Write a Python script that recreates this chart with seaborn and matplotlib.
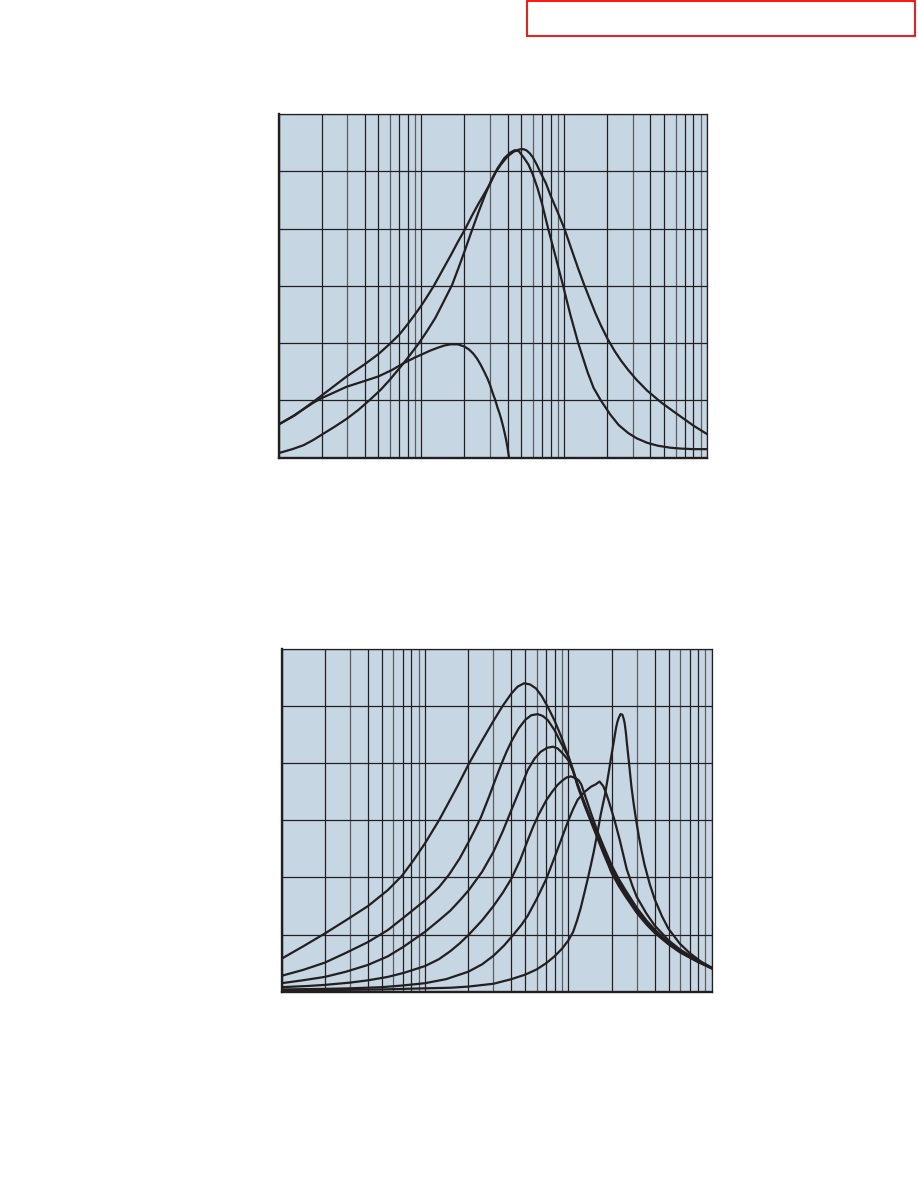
import numpy as np
import pandas as pd
import matplotlib
matplotlib.use("Agg")
import matplotlib.pyplot as plt
from matplotlib.patches import Rectangle
from matplotlib.ticker import LogLocator, NullFormatter
import seaborn as sns

# ---- data (x = frequency, log axis 1..1000; y = 0..6) ----

# top chart
top_a_freq = [1, 1.3, 1.76, 2.3, 3, 4, 5, 5.9, 7, 8, 9, 10, 11, 12.2, 14, 16, 18, 20.3, 22.5, 25, 28, 30, 33, 36, 40, 44, 48, 51, 54, 57, 60, 64, 68, 74, 80, 90, 100,
              115, 125, 137, 150, 165, 180, 200, 225, 250, 280, 320, 380, 473, 550, 650, 800, 1000]
top_a_gain = [0.58, 0.74, 0.98, 1.2, 1.42, 1.63, 1.81, 1.97, 2.15, 2.33, 2.5, 2.66, 2.82, 3.0, 3.27, 3.53, 3.77, 4.0, 4.22, 4.43, 4.64, 4.77, 4.98, 5.12, 5.26, 5.34, 5.38, 5.39, 5.37, 5.32, 5.25, 5.12, 4.98, 4.8, 4.58, 4.28, 4.0,
              3.56, 3.3, 3.03, 2.78, 2.52, 2.31, 2.08, 1.86, 1.69, 1.53, 1.36, 1.17, 0.97, 0.85, 0.72, 0.56, 0.41]

top_b_freq = [1, 1.25, 1.5, 1.75, 2, 2.5, 3, 3.6, 4.4, 5.2, 6, 7, 8, 9.6, 11, 12.5, 14, 16.4, 18.2, 20.2, 22.4, 25, 28, 31, 34, 38, 42, 45, 48, 52, 56, 60, 65, 70, 77, 87, 98,
              110, 125, 145, 160, 180, 210, 240, 280, 320, 380, 450, 550, 650, 800, 1000]
top_b_gain = [0.08, 0.15, 0.22, 0.31, 0.4, 0.55, 0.68, 0.83, 1.02, 1.19, 1.36, 1.56, 1.74, 2.0, 2.22, 2.44, 2.68, 3.02, 3.32, 3.63, 3.95, 4.28, 4.6, 4.86, 5.05, 5.23, 5.33, 5.37, 5.35, 5.24, 5.12, 4.95, 4.7, 4.42, 4.0, 3.5, 3.0,
              2.5, 2.0, 1.5, 1.22, 1.0, 0.75, 0.57, 0.43, 0.34, 0.26, 0.21, 0.175, 0.16, 0.15, 0.15]

top_c_freq = [1, 1.25, 1.5, 1.75, 2, 2.5, 3, 4, 5, 6.2, 7.5, 9, 10, 11.5, 13, 14.5, 16, 18, 20, 21.5, 23, 24.5, 26, 27.5, 29, 30.2, 31.3, 32.7, 34, 35, 36, 37.5, 39, 40, 41]
top_c_gain = [0.58, 0.72, 0.85, 0.96, 1.04, 1.15, 1.24, 1.34, 1.42, 1.53, 1.65, 1.75, 1.8, 1.87, 1.92, 1.96, 1.98, 1.98, 1.94, 1.89, 1.82, 1.73, 1.62, 1.5, 1.38, 1.27, 1.15, 1.02, 0.88, 0.79, 0.69, 0.52, 0.33, 0.18, 0.0]

# bottom chart
bot_1_freq = [1, 1.4, 2, 2.8, 4, 5.5, 6.9, 8.3, 10, 12.5, 14.3, 17, 20.3, 25, 30, 34.7, 40, 44.2, 49, 54, 59.4, 65, 71.7, 80, 89, 100, 108, 116, 130,
              145, 160, 175, 190, 200, 225, 250, 300, 350, 400, 500, 600, 800, 1000]
bot_1_gain = [0.58, 0.79, 1.02, 1.25, 1.5, 1.78, 2.03, 2.3, 2.6, 3.0, 3.27, 3.62, 4.0, 4.4, 4.74, 5.0, 5.22, 5.34, 5.4, 5.38, 5.31, 5.18, 4.99, 4.75, 4.47, 4.12, 3.86, 3.6, 3.25,
              2.95, 2.68, 2.43, 2.22, 2.08, 1.85, 1.67, 1.38, 1.18, 1.03, 0.83, 0.69, 0.52, 0.41]

bot_2_freq = [1, 1.4, 2, 2.8, 4, 5.5, 7.1, 10, 12.5, 14.7, 17.5, 20.2, 22, 24.5, 28, 31, 34, 37, 40, 45, 50, 55, 61, 66, 71.6, 80, 89, 100, 108, 116, 130,
              145, 160, 175, 190, 200, 225, 250, 300, 350, 400, 500, 600, 800, 1000]
bot_2_gain = [0.28, 0.38, 0.51, 0.68, 0.87, 1.08, 1.3, 1.6, 1.83, 2.05, 2.34, 2.63, 2.81, 3.05, 3.42, 3.72, 3.98, 4.2, 4.38, 4.61, 4.76, 4.84, 4.86, 4.83, 4.76, 4.58, 4.35, 4.12, 3.88, 3.62, 3.28,
              2.98, 2.72, 2.48, 2.27, 2.13, 1.9, 1.72, 1.42, 1.21, 1.05, 0.84, 0.7, 0.53, 0.41]

bot_3_freq = [1, 1.4, 2, 2.8, 4, 5.5, 7.1, 10, 12.5, 15, 17.5, 20.2, 25, 30, 35, 40, 46, 52, 58, 64, 71, 78, 84, 89, 95, 100, 108, 116, 130,
              145, 160, 175, 190, 200, 225, 250, 300, 350, 400, 500, 600, 800, 1000]
bot_3_gain = [0.15, 0.2, 0.26, 0.35, 0.47, 0.62, 0.79, 1.05, 1.25, 1.42, 1.6, 1.78, 2.1, 2.45, 2.82, 3.18, 3.55, 3.88, 4.08, 4.2, 4.27, 4.29, 4.26, 4.2, 4.12, 4.05, 3.86, 3.63, 3.3,
              3.0, 2.75, 2.5, 2.3, 2.17, 1.93, 1.75, 1.45, 1.23, 1.07, 0.85, 0.71, 0.54, 0.41]

bot_4_freq = [1, 1.5, 2, 3, 4, 5.5, 7.1, 10, 12.5, 15, 17.5, 20.2, 25, 30, 35, 40, 46, 52, 57, 62, 70, 77, 84, 90, 97, 104, 112, 118, 123, 130,
              145, 160, 175, 190, 200, 225, 250, 300, 350, 400, 500, 600, 800, 1000]
bot_4_gain = [0.08, 0.1, 0.12, 0.16, 0.2, 0.26, 0.33, 0.45, 0.57, 0.71, 0.85, 1.0, 1.25, 1.5, 1.74, 1.98, 2.3, 2.65, 2.9, 3.1, 3.35, 3.5, 3.62, 3.69, 3.75, 3.77, 3.74, 3.7, 3.63, 3.45,
              3.1, 2.8, 2.56, 2.35, 2.22, 1.97, 1.78, 1.47, 1.25, 1.09, 0.86, 0.72, 0.54, 0.41]

bot_5_freq = [1, 2, 3, 5, 7, 10, 14, 20, 25, 30, 35.6, 42, 47, 52, 60, 70, 80, 89, 100, 108, 116, 130, 144, 155, 165, 175, 183, 190, 210, 228, 255,
              280, 300, 350, 400, 500, 600, 800, 1000]
bot_5_gain = [0.04, 0.05, 0.06, 0.08, 0.11, 0.15, 0.22, 0.35, 0.48, 0.63, 0.81, 1.02, 1.17, 1.33, 1.62, 1.97, 2.35, 2.66, 3.0, 3.2, 3.36, 3.5, 3.59, 3.63, 3.68, 3.6, 3.48, 3.36, 3.0, 2.66, 2.15,
              1.85, 1.66, 1.37, 1.16, 0.9, 0.74, 0.55, 0.42]

bot_6_freq = [1, 2, 5, 10, 15, 20, 30, 40, 50, 60, 70, 80, 90, 100, 108, 115, 122, 129, 136, 143, 150, 156, 162, 168, 174, 180, 190, 200, 208, 215, 220, 225, 231, 238, 243, 247, 252, 256,
              265, 275, 285, 297, 310, 325, 340, 370, 400, 450, 500, 600, 700, 850, 1000]
bot_6_gain = [0.02, 0.03, 0.04, 0.06, 0.07, 0.09, 0.14, 0.22, 0.3, 0.39, 0.5, 0.62, 0.75, 0.9, 1.05, 1.25, 1.47, 1.72, 1.96, 2.2, 2.44, 2.66, 2.88, 3.1, 3.28, 3.45, 3.8, 4.15, 4.4, 4.62, 4.73, 4.8, 4.86, 4.85, 4.78, 4.7, 4.53, 4.35,
              4.0, 3.6, 3.3, 3.0, 2.72, 2.45, 2.22, 1.88, 1.62, 1.32, 1.1, 0.84, 0.68, 0.52, 0.42]

top_curves = {"a": (top_a_freq, top_a_gain), "b": (top_b_freq, top_b_gain), "c": (top_c_freq, top_c_gain)}
bot_curves = {"1": (bot_1_freq, bot_1_gain), "2": (bot_2_freq, bot_2_gain), "3": (bot_3_freq, bot_3_gain),
              "4": (bot_4_freq, bot_4_gain), "5": (bot_5_freq, bot_5_gain), "6": (bot_6_freq, bot_6_gain)}

INK = "#231f20"
PANEL = "#c6d7e3"


def to_frame(curves):
    parts = []
    for name, (f, g) in curves.items():
        parts.append(pd.DataFrame({"freq": f, "gain": g, "curve": name}))
    return pd.concat(parts, ignore_index=True)


def style_axes(ax):
    ax.set_xscale("log")
    ax.set_xlim(1, 1000)
    ax.set_ylim(0, 6)
    ax.set_facecolor(PANEL)
    ax.xaxis.set_major_locator(LogLocator(base=10))
    ax.xaxis.set_minor_locator(LogLocator(base=10, subs=np.arange(2, 10)))
    ax.xaxis.set_minor_formatter(NullFormatter())
    ax.set_yticks(range(7))
    ax.tick_params(which="both", length=0, labelbottom=False, labelleft=False)
    ax.set_xlabel("")
    ax.set_ylabel("")
    ax.set_axisbelow(True)
    ax.grid(which="major", color=INK, lw=0.9)
    ax.grid(which="minor", axis="x", color=INK, lw=0.9)
    for side in ["left", "bottom"]:
        ax.spines[side].set_linewidth(1.7)
    for side in ["top", "right"]:
        ax.spines[side].set_linewidth(0.9)
    for sp in ax.spines.values():
        sp.set_color(INK)
        sp.set_visible(True)
    if ax.get_legend() is not None:
        ax.get_legend().remove()


sns.set_style("white")

fig = plt.figure(figsize=(9.18, 11.88), dpi=100)
ax_top = fig.add_axes([0.3034, 0.6147, 0.4671, 0.2893])
ax_bot = fig.add_axes([0.3069, 0.1652, 0.4684, 0.2885])

for ax, curves in [(ax_top, top_curves), (ax_bot, bot_curves)]:
    df = to_frame(curves)
    sns.lineplot(data=df, x="freq", y="gain", units="curve", estimator=None,
                 sort=False, color=INK, lw=1.6, ax=ax)
    style_axes(ax)

# red box top right
fig.patches.append(Rectangle((527 / 918, 1 - 36 / 1188), (915 - 527) / 918, 35.3 / 1188,
                             transform=fig.transFigure, fill=False, edgecolor="#ff0000", lw=1.3))

# some minor grid lines print lighter in the original
fig.canvas.draw()
for ax in [ax_top, ax_bot]:
    for tick in ax.xaxis.get_minor_ticks():
        loc = tick.get_loc()
        if loc <= 0:
            continue
        m = int(round(loc / 10 ** np.floor(np.log10(loc) + 1e-9)))
        if m in (3, 6, 9):
            tick.gridline.set_color("#5a5d62")

fig.savefig("out.png", dpi=100)
